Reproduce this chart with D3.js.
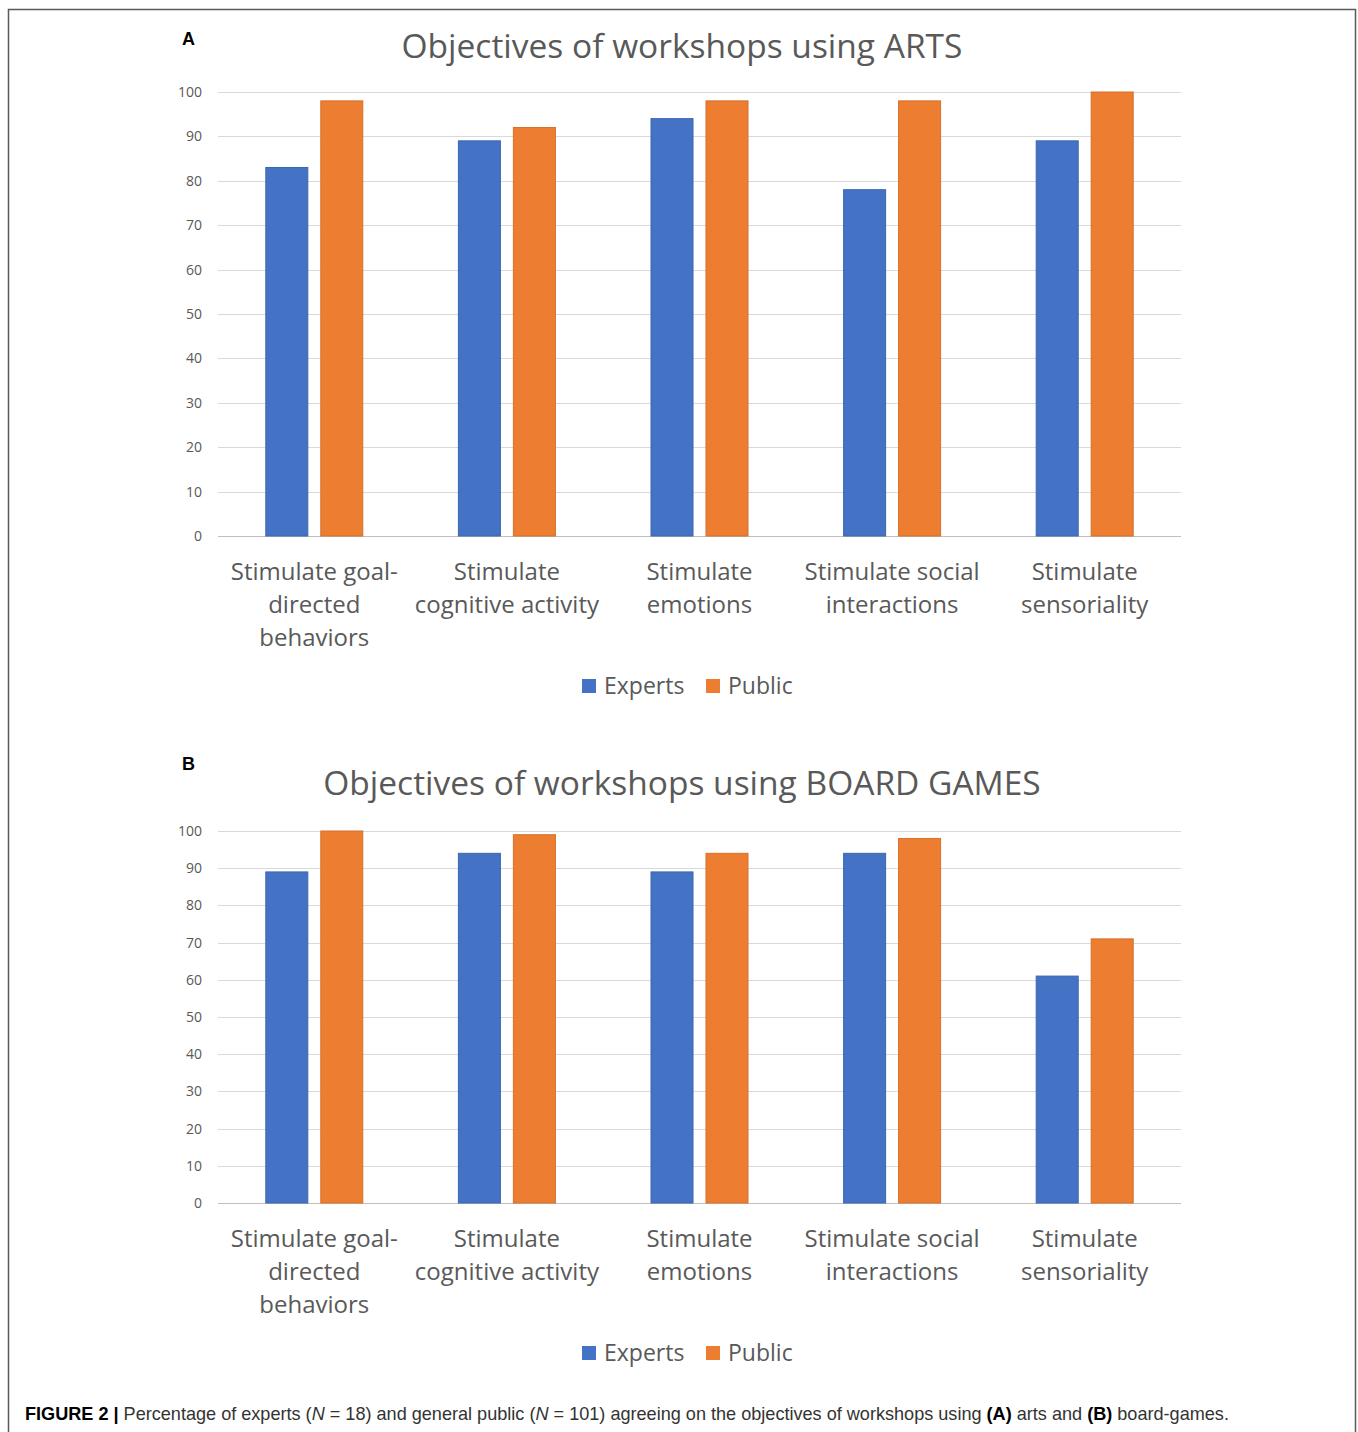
<!DOCTYPE html>
<html>
<head>
<meta charset="utf-8">
<script src="https://cdn.jsdelivr.net/npm/d3@7"></script>
<style>
  html, body { margin: 0; padding: 0; background: #fff; }
  svg { display: block; }
</style>
</head>
<body>
<svg id="fig" width="1358" height="1432"></svg>
<script>
const categories = [
  ["Stimulate goal-", "directed", "behaviors"],
  ["Stimulate", "cognitive activity"],
  ["Stimulate", "emotions"],
  ["Stimulate social", "interactions"],
  ["Stimulate", "sensoriality"]
];
const seriesNames = ["Experts", "Public"];
const seriesColors = ["#4472C4", "#ED7D31"];
const artsExperts = [83, 89, 94, 78, 89];
const artsPublic = [98, 92, 98, 98, 100];
const gamesExperts = [89, 94, 89, 94, 61];
const gamesPublic = [100, 99, 94, 98, 71];
const yTicks = [0, 10, 20, 30, 40, 50, 60, 70, 80, 90, 100];
const titleA = "Objectives of workshops using ARTS";
const titleB = "Objectives of workshops using BOARD GAMES";

const svg = d3.select("#fig");
const FONT = "'Open Sans', 'Noto Sans', sans-serif";
const TXT = "#595959";

// frame
svg.append("path")
  .attr("d", "M8.5,1432 L8.5,9.5 L1355.5,9.5 L1355.5,1432")
  .attr("fill", "none").attr("stroke", "#5a5a5a").attr("stroke-width", 1.5);

function drawPanel(opt) {
  const g = svg.append("g");
  const left = 218, right = 1181;
  const x0 = d3.scaleBand().domain(d3.range(categories.length)).range([left, right]).padding(0);
  const bw = x0.bandwidth();
  const x1 = d3.scaleBand().domain(seriesNames).range([bw / 2 - 48.5, bw / 2 + 48.5]).paddingInner(0.236).paddingOuter(0);
  const y = d3.scaleLinear().domain([0, 100]).range([opt.y0, opt.y100]);

  // gridlines
  g.append("g").selectAll("line").data(yTicks).join("line")
    .attr("x1", left).attr("x2", right)
    .attr("y1", d => Math.round(y(d)) + 0.5).attr("y2", d => Math.round(y(d)) + 0.5)
    .attr("stroke", d => d === 0 ? "#bfbfbf" : "#d9d9d9").attr("stroke-width", 1);

  // y axis labels via d3 axis
  const yAxis = d3.axisLeft(y).tickValues(yTicks).tickSize(0).tickPadding(0);
  const ya = g.append("g").attr("transform", `translate(202,0)`).call(yAxis);
  ya.select(".domain").remove();
  ya.selectAll("text").attr("font-family", FONT).attr("font-size", 14).attr("fill", TXT);

  // bars
  const vals = [opt.experts, opt.public];
  const groups = g.append("g").selectAll("g").data(categories.map((c, i) => i)).join("g")
    .attr("transform", i => `translate(${x0(i)},0)`);
  groups.selectAll("rect").data(i => seriesNames.map((s, k) => ({ s, k, v: vals[k][i] }))).join("rect")
    .attr("x", d => x1(d.s)).attr("width", x1.bandwidth())
    .attr("y", d => y(d.v)).attr("height", d => y(0) - y(d.v))
    .attr("fill", d => seriesColors[d.k])
    .attr("stroke", d => d3.color(seriesColors[d.k]).darker(0.3)).attr("stroke-width", 1);

  // category labels
  const labs = g.append("g").selectAll("text").data(categories).join("text")
    .attr("x", (d, i) => x0(i) + bw / 2)
    .attr("y", opt.y0 + 44)
    .attr("text-anchor", "middle").attr("font-family", FONT).attr("font-size", 24).attr("fill", TXT);
  labs.selectAll("tspan").data(d => d).join("tspan")
    .attr("x", function () { return d3.select(this.parentNode).attr("x"); })
    .attr("dy", (d, j) => j === 0 ? 0 : 33)
    .text(d => d);

  // title
  g.append("text").attr("x", 682).attr("y", opt.titleY)
    .attr("text-anchor", "middle").attr("font-family", FONT).attr("font-size", 33.5).attr("fill", TXT)
    .text(opt.title);

  // panel letter
  g.append("text").attr("x", 182).attr("y", opt.letterY)
    .attr("font-family", "'Liberation Sans', Arial, sans-serif").attr("font-weight", "bold").attr("font-size", 18).attr("fill", "#000")
    .text(opt.letter);

  // legend
  const lg = g.append("g").attr("transform", `translate(0,${opt.legendY})`);
  const legX = [582, 706];
  seriesNames.forEach((s, k) => {
    lg.append("rect").attr("x", legX[k]).attr("y", -7).attr("width", 14).attr("height", 14)
      .attr("fill", seriesColors[k]);
    lg.append("text").attr("x", legX[k] + 22).attr("y", 8)
      .attr("font-family", FONT).attr("font-size", 23).attr("fill", TXT).text(s);
  });
}

drawPanel({ experts: artsExperts, public: artsPublic, y0: 536, y100: 92, title: titleA, titleY: 58, letter: "A", letterY: 45, legendY: 686 });
drawPanel({ experts: gamesExperts, public: gamesPublic, y0: 1203, y100: 831, title: titleB, titleY: 795, letter: "B", letterY: 770, legendY: 1353 });

// caption
const cap = svg.append("text").attr("x", 25).attr("y", 1420)
  .attr("font-family", "'Liberation Sans Narrow', 'Liberation Sans', Arial, sans-serif").attr("font-size", 18.1).attr("fill", "#333");
const parts = [
  ["FIGURE 2 | ", "bold", "normal", "#000"],
  ["Percentage of experts (", "normal", "normal"],
  ["N", "normal", "italic"],
  [" = 18) and general public (", "normal", "normal"],
  ["N", "normal", "italic"],
  [" = 101) agreeing on the objectives of workshops using ", "normal", "normal"],
  ["(A)", "bold", "normal", "#000"],
  [" arts and ", "normal", "normal"],
  ["(B)", "bold", "normal", "#000"],
  [" board-games.", "normal", "normal"]
];
parts.forEach(p => {
  cap.append("tspan").attr("font-weight", p[1]).attr("font-style", p[2]).attr("fill", p[3] || "#333").text(p[0]);
});
</script>
</body>
</html>
